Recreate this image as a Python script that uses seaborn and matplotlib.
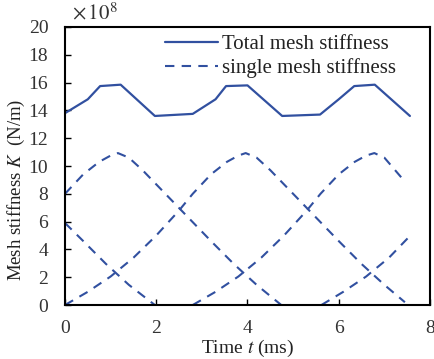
import matplotlib
matplotlib.use("Agg")
import matplotlib.pyplot as plt
import seaborn as sns
import pandas as pd

# ---- data (K in units of 1e8 N/m, t in ms) ----
total_t = [0.0, 0.5, 0.77, 1.22, 1.97, 2.8, 3.3, 3.53, 4.0, 4.76, 5.59, 6.0, 6.34, 6.79, 7.56]
total_k = [13.8, 14.8, 15.75, 15.85, 13.6, 13.75, 14.8, 15.75, 15.8, 13.6, 13.7, 14.8, 15.75, 15.85, 13.6]

# single tooth-pair curves
s1_t = [0.0, 0.4, 0.75, 1.0, 1.16, 1.4, 1.7, 2.2, 2.7, 3.2, 3.7, 4.2, 4.74]
s1_k = [8.0, 9.4, 10.3, 10.75, 10.93, 10.6, 9.7, 8.0, 6.3, 4.6, 2.95, 1.45, 0.0]

s2_t = [0.0, 0.5, 1.0, 1.5, 2.0, 2.5, 2.8, 3.2, 3.55, 3.8, 3.96, 4.2, 4.5, 5.0, 5.5, 6.0, 6.5, 7.0, 7.45]
s2_k = [0.0, 0.95, 2.05, 3.4, 5.0, 6.8, 8.0, 9.4, 10.3, 10.75, 10.93, 10.6, 9.7, 8.0, 6.3, 4.6, 2.95, 1.45, 0.2]

s3_t = [0.0, 0.4, 0.9, 1.4, 1.97]
s3_k = [5.9, 4.6, 2.95, 1.45, 0.0]

s4_t = [2.8, 3.3, 3.8, 4.3, 4.8, 5.3, 5.6, 6.0, 6.35, 6.6, 6.78, 7.0, 7.47]
s4_k = [0.0, 0.95, 2.05, 3.4, 5.0, 6.8, 8.0, 9.4, 10.3, 10.75, 10.93, 10.6, 8.8]

s5_t = [5.62, 6.1, 6.6, 7.1, 7.54]
s5_k = [0.0, 0.95, 2.05, 3.4, 4.9]

x_ticks = [0, 2, 4, 6, 8]
y_ticks = [0, 2, 4, 6, 8, 10, 12, 14, 16, 18, 20]

label_total = "Total mesh stiffness"
label_single = "single mesh stiffness"
x_label = "Time $t$ (ms)"
y_label = "Mesh stiffness $K$  (N/m)"
scale_text = r"$\times\,10^{8}$"

# ---- style ----
sns.set_style("ticks")
plt.rcParams["font.family"] = ["Liberation Serif", "DejaVu Serif"]
plt.rcParams["mathtext.fontset"] = "stix"
color = "#3150a0"

fig = plt.figure(figsize=(4.35, 3.59), dpi=100)
ax = fig.add_axes([0.1494, 0.1504, 0.8391, 0.7744])

sns.lineplot(x=total_t, y=total_k, ax=ax, color=color, lw=1.6,
             label=label_total, sort=False)
singles = [(s1_t, s1_k), (s2_t, s2_k), (s3_t, s3_k), (s4_t, s4_k), (s5_t, s5_k)]
for i, (tt, kk) in enumerate(singles):
    sns.lineplot(x=tt, y=kk, ax=ax, color=color, lw=1.5, sort=False,
                 label=label_single if i == 0 else None,
                 dashes=False, linestyle=(0, (4.5, 3.5)))

ax.set_xlim(0, 8)
ax.set_ylim(0, 20)
ax.set_xticks(x_ticks)
ax.set_yticks(y_ticks)
ax.tick_params(direction="in", length=4, width=1, labelsize=14,
               colors="black", pad=11)
ax.tick_params(axis="y", labelcolor="#333333", pad=12)
ax.tick_params(axis="x", labelcolor="#333333")
for sp in ax.spines.values():
    sp.set_visible(True)
    sp.set_linewidth(1.5)
    sp.set_color("black")

ax.set_xlabel(x_label, fontsize=14, color="#222222")
ax.set_ylabel(y_label, fontsize=13.5, color="#222222")
ax.yaxis.set_label_coords(-0.105, 0.414)
ax.xaxis.set_label_coords(0.5, -0.12)
ax.text(0.02, 1.01, scale_text, transform=ax.transAxes, fontsize=15,
        ha="left", va="bottom", color="#333333")

leg = ax.legend(loc="upper right", frameon=False, fontsize=15,
                handlelength=2.55, handletextpad=0.2, labelspacing=0.2,
                borderaxespad=0.0, borderpad=0.0,
                bbox_to_anchor=(0.908, 0.974))
for t in leg.get_texts():
    t.set_color("#222222")

fig.savefig("out.png", dpi=100)
